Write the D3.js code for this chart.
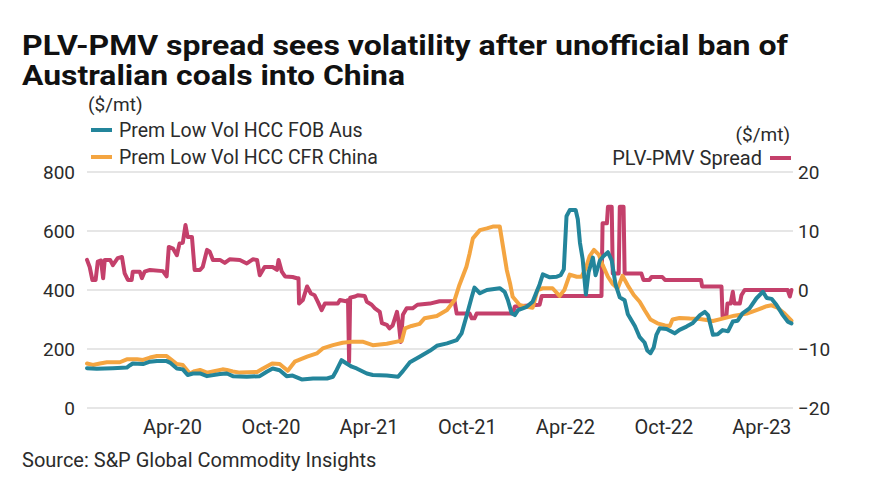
<!DOCTYPE html>
<html>
<head>
<meta charset="utf-8">
<script src="https://cdn.jsdelivr.net/npm/d3@7"></script>
<style>
  html, body { margin: 0; padding: 0; background: #fff; }
  svg { display: block; font-family: Roboto, "Noto Sans", sans-serif; }
</style>
</head>
<body>
<svg id="chart" width="875" height="489"></svg>
<script>
// ---------- DATA ----------
const titleLines = ["PLV-PMV spread sees volatility after unofficial ban of", "Australian coals into China"];
const sourceText = "Source: S&P Global Commodity Insights";
const seriesNames = ["Prem Low Vol HCC FOB Aus", "Prem Low Vol HCC CFR China", "PLV-PMV Spread"];
const unitLabel = "($/mt)";
const leftTicks = [0, 200, 400, 600, 800];
const rightTicks = [-20, -10, 0, 10, 20];
const xTickDates = ["2020-04-01", "2020-10-01", "2021-04-01", "2021-10-01", "2022-04-01", "2022-10-01", "2023-04-01"];
const xDomain = ["2019-10-26", "2023-05-28"];

// Prem Low Vol HCC FOB Aus ($/mt)
const fobAus = [
  ["2019-10-26",135],["2019-11-13",133],["2019-12-13",135],["2020-01-08",137],["2020-01-14",145],["2020-01-19",151],
  ["2020-02-07",149],["2020-02-20",157],["2020-03-04",159],["2020-03-22",159],["2020-03-28",154],["2020-04-10",134],
  ["2020-04-21",131],["2020-04-30",112],["2020-05-10",117],["2020-05-23",117],["2020-06-05",108],["2020-06-29",115],
  ["2020-07-12",117],["2020-07-23",108],["2020-08-18",106],["2020-09-11",108],["2020-09-24",123],["2020-10-05",134],
  ["2020-10-18",128],["2020-10-31",108],["2020-11-11",110],["2020-11-28",97],["2020-12-19",100],["2021-01-14",100],
  ["2021-01-25",106],["2021-02-01",129],["2021-02-10",162],["2021-02-20",150],["2021-03-01",140],["2021-03-10",134],
  ["2021-03-29",117],["2021-04-09",112],["2021-05-05",110],["2021-05-26",106],["2021-06-04",125],["2021-06-17",155],
  ["2021-07-05",174],["2021-07-24",194],["2021-08-06",211],["2021-08-25",219],["2021-09-12",230],["2021-09-21",253],
  ["2021-09-30",310],["2021-10-10",377],["2021-10-15",408],["2021-10-25",389],["2021-11-07",400],["2021-12-01",406],
  ["2021-12-10",394],["2021-12-16",366],["2021-12-23",321],["2021-12-29",315],["2022-01-04",332],["2022-01-20",343],
  ["2022-01-31",360],["2022-02-13",419],["2022-02-19",453],["2022-03-04",443],["2022-03-17",445],["2022-03-24",450],
  ["2022-03-30",470],["2022-04-04",650],["2022-04-10",671],["2022-04-21",671],["2022-04-25",640],["2022-04-29",560],
  ["2022-05-04",505],["2022-05-10",385],["2022-05-15",460],["2022-05-23",510],["2022-05-28",450],["2022-06-05",500],
  ["2022-06-12",515],["2022-06-20",528],["2022-06-27",500],["2022-07-04",420],["2022-07-12",375],["2022-07-21",365],
  ["2022-07-27",318],["2022-08-09",278],["2022-08-18",240],["2022-08-27",222],["2022-09-01",195],["2022-09-07",186],
  ["2022-09-13",205],["2022-09-18",248],["2022-09-24",270],["2022-10-07",268],["2022-10-22",253],["2022-10-31",265],
  ["2022-11-13",276],["2022-11-24",287],["2022-12-08",315],["2022-12-17",326],["2022-12-23",315],["2023-01-01",248],
  ["2023-01-10",250],["2023-01-19",264],["2023-01-29",260],["2023-02-07",293],["2023-02-16",296],["2023-02-25",321],
  ["2023-03-10",338],["2023-03-23",372],["2023-04-04",394],["2023-04-11",373],["2023-04-20",370],["2023-04-29",350],
  ["2023-05-11",315],["2023-05-20",293],["2023-05-27",287]
];

// Prem Low Vol HCC CFR China ($/mt)
const cfrChina = [
  ["2019-10-26",151],["2019-11-06",146],["2019-11-19",151],["2019-12-02",155],["2019-12-26",155],["2020-01-08",165],
  ["2020-01-27",165],["2020-02-07",163],["2020-02-20",171],["2020-03-04",176],["2020-03-22",176],["2020-03-31",163],
  ["2020-04-10",149],["2020-04-21",146],["2020-05-04",117],["2020-05-13",125],["2020-05-23",129],["2020-06-05",120],
  ["2020-06-16",124],["2020-07-04",131],["2020-07-12",129],["2020-07-23",124],["2020-08-05",120],["2020-09-06",122],
  ["2020-09-17",134],["2020-10-04",151],["2020-10-18",149],["2020-11-02",126],["2020-11-15",157],["2020-12-08",174],
  ["2020-12-26",185],["2021-01-06",202],["2021-01-25",213],["2021-02-12",221],["2021-03-03",225],["2021-03-21",225],
  ["2021-04-09",213],["2021-05-05",218],["2021-05-24",225],["2021-06-02",228],["2021-06-08",270],["2021-06-20",278],
  ["2021-07-05",285],["2021-07-14",304],["2021-08-06",312],["2021-08-25",332],["2021-09-08",366],["2021-09-17",417],
  ["2021-09-30",479],["2021-10-06",524],["2021-10-12",575],["2021-10-25",603],["2021-11-07",609],["2021-11-18",615],
  ["2021-12-01",615],["2021-12-07",547],["2021-12-14",468],["2021-12-20",423],["2021-12-25",377],["2022-01-07",349],
  ["2022-01-20",343],["2022-01-31",340],["2022-02-09",400],["2022-02-19",406],["2022-03-09",406],["2022-03-22",380],
  ["2022-03-31",400],["2022-04-10",452],["2022-04-23",445],["2022-05-02",445],["2022-05-10",475],["2022-05-17",515],
  ["2022-05-25",536],["2022-06-03",520],["2022-06-10",485],["2022-06-20",445],["2022-06-29",420],["2022-07-08",405],
  ["2022-07-17",448],["2022-07-27",415],["2022-08-07",383],["2022-08-18",360],["2022-08-27",332],["2022-09-07",300],
  ["2022-09-20",287],["2022-10-04",280],["2022-10-13",278],["2022-10-18",300],["2022-10-31",305],["2022-11-19",303],
  ["2022-12-08",302],["2023-01-01",295],["2023-01-17",302],["2023-02-10",313],["2023-03-05",320],["2023-03-23",332],
  ["2023-04-11",345],["2023-04-20",348],["2023-05-01",340],["2023-05-13",322],["2023-05-27",296]
];

// PLV-PMV Spread ($/mt, right axis)
const plvPmvSpread = [
  ["2019-10-26",5.1],["2019-10-31",3.9],["2019-11-05",1.7],["2019-11-11",1.7],["2019-11-15",4.8],["2019-11-21",5.0],
  ["2019-11-25",2.0],["2019-11-28",5.1],["2019-12-08",5.1],["2019-12-13",4.2],["2019-12-22",5.4],["2019-12-30",5.6],
  ["2020-01-04",2.8],["2020-01-10",1.7],["2020-01-17",1.7],["2020-01-19",3.1],["2020-02-01",3.1],["2020-02-05",2.0],
  ["2020-02-10",3.1],["2020-02-20",3.4],["2020-03-15",3.2],["2020-03-22",2.3],["2020-03-26",7.3],["2020-04-03",7.0],
  ["2020-04-10",5.9],["2020-04-15",7.9],["2020-04-21",8.0],["2020-04-26",11.0],["2020-04-30",9.0],["2020-05-08",9.0],
  ["2020-05-13",3.4],["2020-05-23",3.4],["2020-05-28",3.9],["2020-06-05",6.8],["2020-06-10",6.5],["2020-06-16",5.1],
  ["2020-06-29",5.1],["2020-07-08",4.6],["2020-07-17",5.2],["2020-08-05",5.1],["2020-08-18",4.5],["2020-08-29",5.2],
  ["2020-09-06",5.1],["2020-09-11",2.5],["2020-09-20",3.9],["2020-10-05",3.9],["2020-10-13",3.4],["2020-10-16",5.1],
  ["2020-10-22",3.1],["2020-10-28",2.3],["2020-11-11",2.2],["2020-11-19",2.0],["2020-11-22",2.0],["2020-11-23",-2.3],
  ["2020-11-30",-1.7],["2020-12-08",0.6],["2020-12-15",-0.6],["2020-12-22",-0.9],["2020-12-28",-2.0],["2021-01-04",-3.4],
  ["2021-01-10",-2.3],["2021-02-03",-2.3],["2021-02-07",-1.7],["2021-02-18",-1.9],["2021-02-22",-1.7],["2021-02-24",-12.2],
  ["2021-02-26",-1.3],["2021-03-07",-1.1],["2021-03-12",-0.9],["2021-03-25",-1.0],["2021-03-29",-2.0],["2021-04-07",-2.5],
  ["2021-04-13",-3.1],["2021-04-22",-3.7],["2021-04-26",-5.6],["2021-05-05",-5.9],["2021-05-10",-6.5],["2021-05-16",-6.0],
  ["2021-05-24",-3.7],["2021-05-27",-5.4],["2021-05-31",-8.8],["2021-06-04",-4.2],["2021-06-11",-3.1],["2021-06-22",-3.1],
  ["2021-07-01",-2.5],["2021-07-24",-2.3],["2021-08-11",-1.9],["2021-09-08",-1.9],["2021-09-12",-4.0],["2021-10-06",-4.0],
  ["2021-10-10",-4.8],["2021-10-15",-4.8],["2021-10-19",-4.0],["2021-12-25",-4.0],["2021-12-29",-2.8],["2022-02-13",-2.5],
  ["2022-02-17",-1.0],["2022-06-08",-1.0],["2022-06-10",11.3],["2022-06-18",11.3],["2022-06-20",14.1],["2022-06-27",14.1],
  ["2022-06-29",2.8],["2022-07-10",2.8],["2022-07-12",14.1],["2022-07-19",14.1],["2022-07-21",2.8],["2022-08-21",2.8],
  ["2022-08-25",1.7],["2022-09-05",1.7],["2022-09-09",2.2],["2022-09-29",2.2],["2022-10-04",1.7],["2022-12-10",1.7],
  ["2022-12-12",0.6],["2023-01-17",0.6],["2023-01-19",-4.5],["2023-01-26",-4.5],["2023-01-28",-2.3],["2023-02-03",-2.3],
  ["2023-02-07",-0.3],["2023-02-10",-2.3],["2023-02-20",-2.3],["2023-02-23",-0.9],["2023-03-01",0],["2023-05-20",0],
  ["2023-05-24",-1.1],["2023-05-27",0]
];

const colors = { fob: "#23859b", cfr: "#f4a541", spread: "#c4406b" };

// ---------- CHART ----------
const svg = d3.select("#chart");
const parse = d3.timeParse("%Y-%m-%d");
const m = { left: 87, right: 792, top: 172, bottom: 408 };

const x = d3.scaleTime().domain(xDomain.map(parse)).range([m.left, m.right]);
const yL = d3.scaleLinear().domain([0, 800]).range([m.bottom, m.top]);
const yR = d3.scaleLinear().domain([-20, 20]).range([m.bottom, m.top]);

const textCol = "#2b2b2b";

// title
svg.selectAll("text.title").data(titleLines).join("text")
  .attr("class", "title")
  .attr("x", 22).attr("y", (d, i) => 55 + i * 30)
  .attr("font-size", 28).attr("font-weight", 700).attr("fill", "#111")
  .attr("textLength", (d, i) => i === 0 ? 766 : 383)
  .attr("lengthAdjust", "spacingAndGlyphs")
  .text(d => d);

// gridlines
svg.append("g").selectAll("line").data(leftTicks).join("line")
  .attr("x1", m.left).attr("x2", m.right + 1)
  .attr("y1", d => yL(d)).attr("y2", d => yL(d))
  .attr("stroke", "#dedede").attr("stroke-width", 1.5);

// left axis
const axL = svg.append("g").attr("transform", `translate(${m.left},0)`)
  .call(d3.axisLeft(yL).tickValues(leftTicks).tickSize(0).tickPadding(12));
axL.select(".domain").remove();
axL.selectAll("text").attr("font-size", 19).attr("fill", textCol).attr("font-family", "Roboto");

// right axis
const axR = svg.append("g").attr("transform", `translate(${m.right},0)`)
  .call(d3.axisRight(yR).tickValues(rightTicks).tickSize(0).tickPadding(6));
axR.select(".domain").remove();
axR.selectAll("text").attr("font-size", 19).attr("fill", textCol).attr("font-family", "Roboto");

// x axis
const axX = svg.append("g").attr("transform", `translate(0,${m.bottom})`)
  .call(d3.axisBottom(x).tickValues(xTickDates.map(parse)).tickFormat(d3.timeFormat("%b-%y")).tickSize(0).tickPadding(12));
axX.select(".domain").remove();
axX.selectAll("text").attr("font-size", 20).attr("fill", textCol).attr("font-family", "Roboto");

// lines
const lineL = d3.line().x(d => x(parse(d[0]))).y(d => yL(d[1]));
const lineR = d3.line().x(d => x(parse(d[0]))).y(d => yR(d[1]));

const g = svg.append("g").attr("fill", "none").attr("stroke-width", 4)
  .attr("stroke-linejoin", "round").attr("stroke-linecap", "round");
g.append("path").datum(plvPmvSpread).attr("d", lineR).attr("stroke", colors.spread);
g.append("path").datum(cfrChina).attr("d", lineL).attr("stroke", colors.cfr);
g.append("path").datum(fobAus).attr("d", lineL).attr("stroke", colors.fob);

// left legend
svg.append("text").attr("x", 88).attr("y", 111).attr("font-size", 19).attr("fill", textCol).text(unitLabel);
const legL = [[seriesNames[0], colors.fob], [seriesNames[1], colors.cfr]];
legL.forEach((d, i) => {
  const cy = 130 + i * 27;
  svg.append("line").attr("x1", 91).attr("x2", 112).attr("y1", cy).attr("y2", cy)
    .attr("stroke", d[1]).attr("stroke-width", 4);
  svg.append("text").attr("x", 119).attr("y", cy + 7).attr("font-size", 19.5).attr("fill", textCol).text(d[0]);
});

// right legend
svg.append("text").attr("x", 790).attr("y", 141).attr("text-anchor", "end").attr("font-size", 19).attr("fill", textCol).text(unitLabel);
svg.append("line").attr("x1", 770).attr("x2", 791).attr("y1", 158).attr("y2", 158)
  .attr("stroke", colors.spread).attr("stroke-width", 4);
svg.append("text").attr("x", 762).attr("y", 165).attr("text-anchor", "end").attr("font-size", 20).attr("fill", textCol).text(seriesNames[2]);

// source
svg.append("text").attr("x", 22).attr("y", 467).attr("font-size", 20).attr("fill", textCol).text(sourceText);
</script>
</body>
</html>
